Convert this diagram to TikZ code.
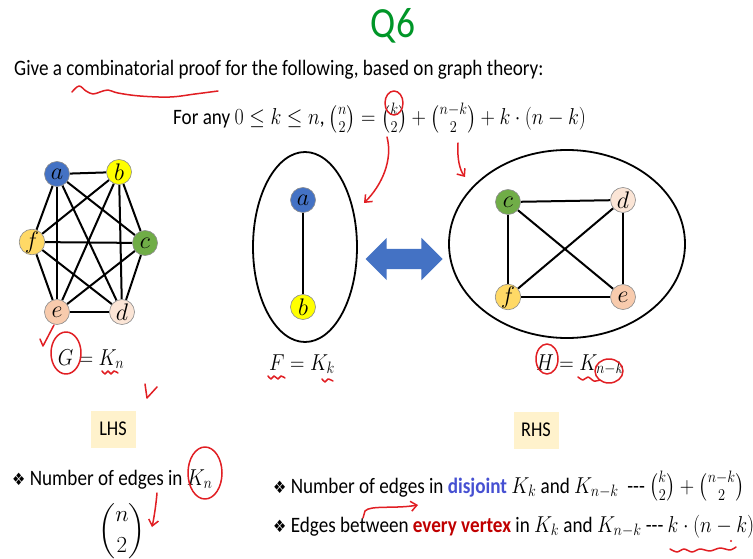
\RequirePackage{fix-cm}
\documentclass[tikz,border=0pt]{standalone}
\usepackage{amsmath,amssymb}
\usepackage{fontspec}
\setmainfont{Carlito}
\newfontfamily\dingfont{DejaVu Sans}
\usepackage{graphicx}
\usepackage{xcolor}
\definecolor{qgreen}{RGB}{0,150,40}
\definecolor{nodeblue}{RGB}{68,114,196}
\definecolor{nodeyellow}{RGB}{255,255,0}
\definecolor{nodegreen}{RGB}{112,173,71}
\definecolor{nodegold}{RGB}{255,217,102}
\definecolor{nodepeach}{RGB}{248,203,173}
\definecolor{nodecream}{RGB}{251,229,214}
\definecolor{tagfill}{RGB}{255,242,204}
\definecolor{disjblue}{RGB}{70,80,210}
\definecolor{vred}{RGB}{192,0,0}
\definecolor{inkred}{RGB}{225,30,35}
\usepackage{tikz}
\usetikzlibrary{shapes.geometric,shapes.arrows,arrows.meta,backgrounds}
\DeclareMathSizes{22}{23}{16.5}{13}
\DeclareMathSizes{20}{24}{17}{13}
\newcommand{\sq}[1]{\scalebox{0.87}[1]{#1}}
\newcommand{\dia}{{\dingfont\fontsize{17}{17}\selectfont ❖}}

\begin{document}
\begin{tikzpicture}[
    x=1pt, y=-1pt,
    vtx/.style={circle, draw=black!45, line width=0.6pt,
                minimum size=25pt, inner sep=0pt,
                font=\fontsize{20}{20}\selectfont},
    kedge/.style={line width=2pt, black},
    blob/.style={ellipse, draw, line width=1.8pt, inner sep=0pt},
    sidetag/.style={fill=tagfill, minimum width=45pt, minimum height=37pt,
                    inner sep=0pt, font=\fontsize{21}{21}\selectfont},
    txt/.style={inner sep=0pt, font=\fontsize{22}{26}\selectfont},
    ink/.style={draw=inkred, line width=1.5pt, line cap=round, line join=round},
    inkarr/.style={ink, -{Straight Barb[length=6pt,width=10pt]}},
  ]
  \useasboundingbox (0,0) rectangle (753,559);

  %% HEADER
  \node[anchor=base, inner sep=0pt, text=qgreen,
        font=\fontsize{43}{43}\selectfont] (title) at (393,38) {\sq{Q6}};
  \node[txt, anchor=base west] (task) at (14,76)
    {\sq{Give a combinatorial proof for the following, based on graph theory:}};
  \node[txt, anchor=base west] (claim) at (173,125)
    {\sq{For any $0\le k\le n$, $\binom{n}{2}=\binom{k}{2}+\binom{n-k}{2}+k\cdot(n-k)$}};

  %% G = K_n
  \node[vtx, fill=nodeblue]   (la) at (57,174)  {$a$};
  \node[vtx, fill=nodeyellow] (lb) at (119,172) {$b$};
  \node[vtx, fill=nodegreen]  (lc) at (145,243) {$c$};
  \node[vtx, fill=nodecream]  (ld) at (122,312) {$d$};
  \node[vtx, fill=nodepeach]  (le) at (57,312)  {$e$};
  \node[vtx, fill=nodegold]   (lf) at (32,242)  {$f$};
  \node[txt, anchor=base] (glab) at (91,365) {\sq{$G=K_n$}};

  %% F = K_k
  \node[blob, minimum width=104pt, minimum height=190pt] (fbox) at (305,247) {};
  \node[vtx, fill=nodeblue]   (fa) at (303,200) {$a$};
  \node[vtx, fill=nodeyellow] (fb) at (303,307) {$b$};
  \node[txt, anchor=base] (flab) at (302,370) {\sq{$F=K_k$}};

  \node[double arrow, fill=nodeblue, minimum height=77pt,
        inner xsep=0pt, inner ysep=10pt,
        double arrow head extend=11pt] (swap) at (404,259) {};

  %% H = K_{n-k}
  \node[blob, minimum width=236pt, minimum height=188pt] (hbox) at (567,244) {};
  \node[vtx, fill=nodegreen]  (hc) at (508,202) {$c$};
  \node[vtx, fill=nodecream]  (hd) at (623,200) {$d$};
  \node[vtx, fill=nodepeach]  (he) at (623,297) {$e$};
  \node[vtx, fill=nodegold]   (hf) at (508,297) {$f$};
  \node[txt, anchor=base] (hlab) at (580,370) {\sq{$H=K_{n-k}$}};

  \begin{scope}[on background layer]
    \fill[white] (0,0) rectangle (753,559);
    \foreach \s/\t in {la/lb,la/lc,la/ld,la/le,la/lf,lb/lc,lb/ld,lb/le,lb/lf,
                       lc/ld,lc/le,lc/lf,ld/le,ld/lf,le/lf}
      \draw[kedge] (\s) -- (\t);
    \draw[line width=1.3pt] (fa) -- (fb);
    \foreach \s/\t in {hc/hd,hc/he,hc/hf,hd/he,hd/hf,he/hf}
      \draw[kedge] (\s) -- (\t);
  \end{scope}

  %% LHS / RHS
  \node[sidetag] (lhs) at (113,429) {\sq{LHS}};
  \node[sidetag] (rhs) at (536,430) {\sq{RHS}};

  \node[txt, anchor=base west] (lhsitem) at (12,485)
    {\sq{\dia\ Number of edges in $K_n$}};
  \node[txt] (lhsval) at (122,531) {$\displaystyle\binom{n}{2}$};

  \node[txt, anchor=base west] (rhsone) at (273,493)
    {\sq{\dia\ Number of edges in \textcolor{disjblue}{\textbf{disjoint}} $K_k$ and
     $K_{n-k}$\ \ -{}-{}- $\binom{k}{2}+\binom{n-k}{2}$}};
  \node[txt, anchor=base west] (rhstwo) at (273,532)
    {\sq{\dia\ Edges between \textcolor{vred}{\textbf{every vertex}} in $K_k$ and
     $K_{n-k}$ -{}-{}- $k\cdot(n-k)$}};

  %% red ink
  \draw[ink] plot[smooth, tension=0.6] coordinates {(72,92) (79,86) (86,91) (93,94)
    (100,92) (108,90) (118,93) (140,96) (170,97) (195,94) (218,91)};
  \draw[ink] (394,103) ellipse (9 and 12);
  \coordinate (kmark) at (387,137);
  \coordinate (ftip) at (364,203);
  \draw[inkarr] (kmark) .. controls (393,160) and (382,185) .. (ftip);
  \coordinate (nkmark) at (458,143);
  \coordinate (htip) at (465,177);
  \draw[inkarr] (nkmark) .. controls (457,160) and (460,170) .. (htip);

  \draw[ink] (40,339) -- (43,346) -- (54,325);
  \draw[ink] (66,353) ellipse (15 and 21);
  \draw[ink] plot[smooth] coordinates {(102,371) (105,374) (108,371) (111,374) (114,371) (118,373)};
  \draw[ink] (145,384) -- (147,398) -- (157,387);
  \draw[ink] plot[smooth] coordinates {(268,376) (271,379) (274,376) (278,379) (281,376) (285,378)};
  \draw[ink] plot[smooth] coordinates {(322,379) (325,382) (328,379) (333,381)};
  \draw[ink] (547,359) ellipse (11 and 15);
  \draw[ink] (609,371) ellipse (14 and 12);
  \draw[ink] plot[smooth] coordinates {(578,377) (583,380) (588,377) (594,381) (600,380)};

  \draw[ink] (205,473) ellipse (17 and 26);
  \coordinate (knmark) at (157,493);
  \coordinate (bintip) at (152,527);
  \draw[inkarr] (knmark) .. controls (156,505) and (154,518) .. (bintip);
  \coordinate (edgemark) at (363,518);
  \coordinate (edgetip) at (418,505);
  \draw[ink] (363,518) -- (365,511);
  \draw[inkarr] (365,511) .. controls (370,505) and (395,509) .. (edgetip);
  \draw[ink] plot[smooth] coordinates {(670,549) (677,552) (684,549) (692,552)
    (700,549) (710,551) (720,548) (730,550) (736,547)};
  \fill[inkred] (731,541) circle (1.2);
\end{tikzpicture}
\end{document}
